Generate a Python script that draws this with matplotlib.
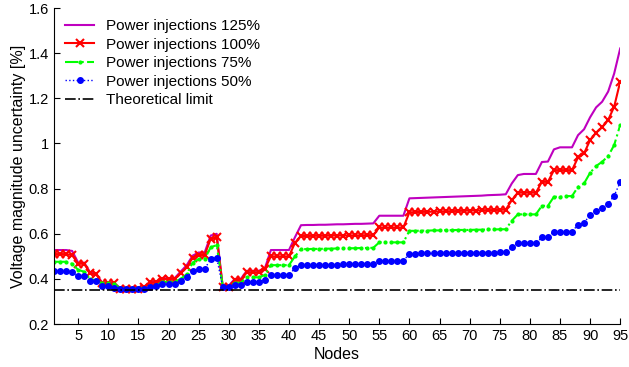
import matplotlib
matplotlib.use("Agg")
import matplotlib.pyplot as plt
import numpy as np

plt.rcParams['font.family'] = ['Liberation Sans', 'DejaVu Sans']

nodes = list(range(1, 96))

p125 = [0.528, 0.528, 0.528, 0.524, 0.472, 0.472, 0.428, 0.423, 0.382, 0.382,
        0.382, 0.358, 0.358, 0.358, 0.358, 0.364, 0.388, 0.388, 0.403, 0.403,
        0.403, 0.432, 0.460, 0.503, 0.517, 0.517, 0.592, 0.600, 0.366, 0.370,
        0.400, 0.400, 0.436, 0.436, 0.436, 0.447, 0.528, 0.528, 0.528, 0.528,
        0.585,
        0.638, 0.639, 0.639, 0.640, 0.640, 0.641, 0.642, 0.642, 0.643, 0.644,
        0.644, 0.645, 0.646,
        0.680, 0.680, 0.680, 0.680, 0.680,
        0.757, 0.758, 0.759, 0.760, 0.761, 0.762, 0.763, 0.764, 0.765, 0.766,
        0.767, 0.768, 0.769, 0.771, 0.772, 0.773, 0.775,
        0.823, 0.860, 0.865, 0.865, 0.865, 0.918, 0.920, 0.974, 0.983, 0.983,
        0.983, 1.037, 1.063, 1.116, 1.160, 1.185, 1.230, 1.310, 1.421]

p100 = [0.510, 0.510, 0.510, 0.505, 0.467, 0.467, 0.425, 0.420, 0.380, 0.380,
        0.380, 0.356, 0.356, 0.356, 0.356, 0.362, 0.385, 0.385, 0.400, 0.400,
        0.400, 0.425, 0.451, 0.494, 0.506, 0.506, 0.577, 0.584, 0.366, 0.366,
        0.395, 0.395, 0.429, 0.429, 0.429, 0.445, 0.500, 0.500, 0.500, 0.500,
        0.560,
        0.590, 0.590, 0.591, 0.591, 0.591, 0.592, 0.592, 0.592, 0.593, 0.593,
        0.593, 0.594, 0.594,
        0.628, 0.628, 0.628, 0.628, 0.628,
        0.695, 0.696, 0.697, 0.697, 0.698, 0.699, 0.700, 0.700, 0.701, 0.702,
        0.703, 0.703, 0.704, 0.705, 0.705, 0.706, 0.707,
        0.749, 0.782, 0.782, 0.782, 0.782, 0.830, 0.830, 0.882, 0.882, 0.882,
        0.882, 0.938, 0.956, 1.015, 1.048, 1.072, 1.104, 1.163, 1.274]

p75 = [0.476, 0.476, 0.476, 0.467, 0.440, 0.432, 0.398, 0.395, 0.380, 0.380,
       0.378, 0.358, 0.357, 0.357, 0.358, 0.360, 0.368, 0.372, 0.387, 0.387,
       0.387, 0.400, 0.420, 0.472, 0.488, 0.488, 0.540, 0.550, 0.368, 0.366,
       0.383, 0.383, 0.407, 0.407, 0.407, 0.417, 0.461, 0.461, 0.461, 0.461,
       0.500,
       0.532, 0.532, 0.533, 0.533, 0.534, 0.534, 0.535, 0.535, 0.536, 0.536,
       0.537, 0.537, 0.538,
       0.562, 0.562, 0.562, 0.562, 0.562,
       0.613, 0.613, 0.614, 0.614, 0.615, 0.615, 0.616, 0.616, 0.617, 0.617,
       0.617, 0.618, 0.618, 0.619, 0.619, 0.620, 0.620,
       0.658, 0.686, 0.686, 0.686, 0.686, 0.724, 0.724, 0.764, 0.764, 0.767,
       0.767, 0.808, 0.823, 0.870, 0.900, 0.919, 0.944, 0.993, 1.082]

p50 = [0.436, 0.436, 0.436, 0.429, 0.413, 0.413, 0.390, 0.390, 0.368, 0.368,
       0.361, 0.355, 0.355, 0.355, 0.356, 0.357, 0.365, 0.368, 0.377, 0.377,
       0.377, 0.392, 0.407, 0.435, 0.444, 0.444, 0.488, 0.494, 0.364, 0.364,
       0.373, 0.373, 0.386, 0.386, 0.386, 0.395, 0.419, 0.419, 0.419, 0.419,
       0.447,
       0.461, 0.461, 0.462, 0.462, 0.462, 0.463, 0.463, 0.464, 0.464, 0.465,
       0.465, 0.466, 0.466,
       0.480, 0.480, 0.480, 0.480, 0.480,
       0.512, 0.512, 0.513, 0.513, 0.513, 0.514, 0.514, 0.515, 0.515, 0.515,
       0.516, 0.516, 0.516, 0.517, 0.517, 0.518, 0.518,
       0.541, 0.557, 0.557, 0.557, 0.557, 0.584, 0.584, 0.610, 0.610, 0.610,
       0.610, 0.640, 0.649, 0.683, 0.700, 0.713, 0.733, 0.769, 0.828]

limit_value = 0.35

xticks = list(range(5, 96, 5))
yticks = [0.2, 0.4, 0.6, 0.8, 1.0, 1.2, 1.4, 1.6]
yticklabels = ['0.2', '0.4', '0.6', '0.8', '1', '1.2', '1.4', '1.6']

fig = plt.figure(figsize=(6.29, 3.67), dpi=100)
ax = fig.add_axes([0.086, 0.117, 0.9, 0.861])

ax.plot(nodes, p125, '-', color='#BF00BF', lw=1.5, label='Power injections 125%')
ax.plot(nodes, p100, '-', color='#FF0000', lw=1.5, marker='x', markersize=6,
        markeredgewidth=1.5, label='Power injections 100%')
ax.plot(nodes, p75, '-.', color='#00FF00', lw=1.5, marker='.', markersize=4,
        label='Power injections 75%')
ax.plot(nodes, p50, ':', color='#0000FF', lw=1.0, marker='.', markersize=8,
        label='Power injections 50%')
ax.plot(nodes, [limit_value] * len(nodes), '-.', color='black', lw=1.2,
        label='Theoretical limit')

ax.set_xlim(1, 95)
ax.set_ylim(0.2, 1.6)
ax.set_xticks(xticks)
ax.set_yticks(yticks)
ax.set_yticklabels(yticklabels)
ax.tick_params(direction='in', labelsize=10.5, length=4)
ax.spines['top'].set_visible(False)
ax.spines['right'].set_visible(False)
ax.set_xlabel('Nodes', fontsize=11.5, labelpad=3)
ax.set_ylabel('Voltage magnitude uncertainty [%]', fontsize=11.5, labelpad=2)

leg = ax.legend(loc='upper left', frameon=False, fontsize=11,
                handlelength=1.85, handletextpad=0.8, borderaxespad=0.0,
                labelspacing=0.3, borderpad=0.3,
                bbox_to_anchor=(0.012, 0.98))

fig.savefig('out.png', dpi=100)
